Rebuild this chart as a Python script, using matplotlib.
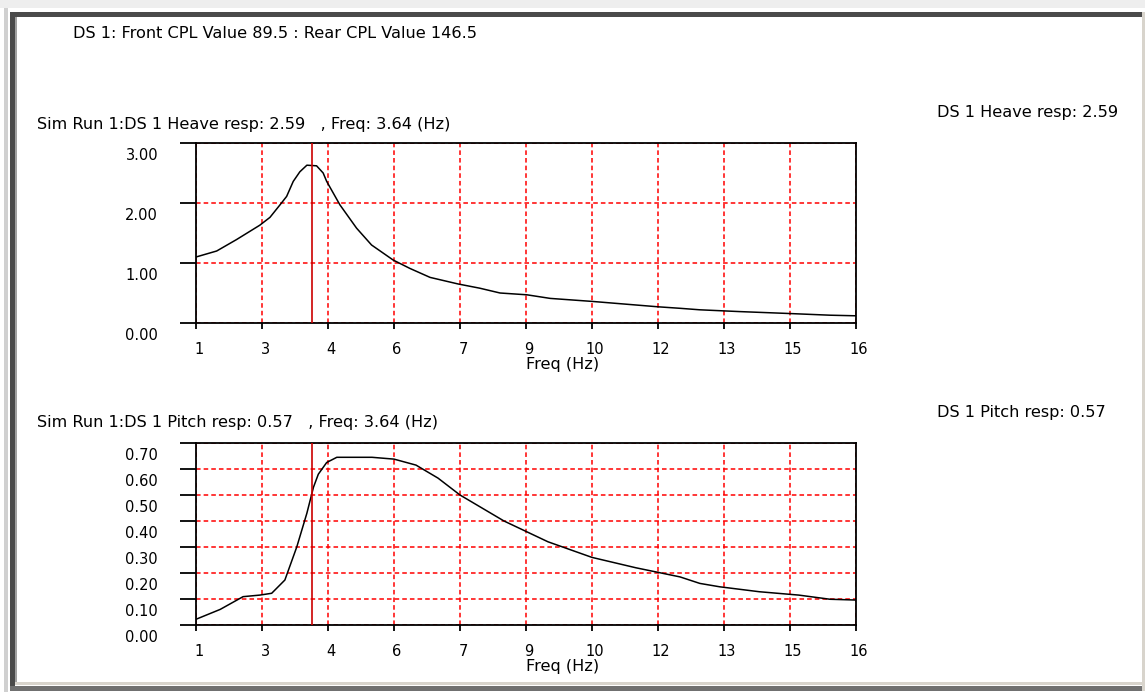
import numpy as np
import matplotlib
matplotlib.use("Agg")
import matplotlib.pyplot as plt
from matplotlib.patches import Rectangle
from matplotlib.transforms import ScaledTranslation

# ---------------- data ----------------
heave_freq = [1.0, 1.47, 1.92, 2.45, 2.68, 2.91, 3.06, 3.21, 3.36, 3.52, 3.74, 3.89,
              3.97, 4.27, 4.65, 4.99, 5.48, 5.86, 6.32, 6.96, 7.45, 7.91, 8.52, 9.05,
              10.0, 11.0, 11.5, 12.0, 12.45, 13.36, 14.42, 15.41, 16.0]
heave_resp = [1.10, 1.20, 1.39, 1.63, 1.76, 1.97, 2.11, 2.36, 2.52, 2.63, 2.62, 2.50,
              2.36, 1.97, 1.58, 1.30, 1.05, 0.91, 0.76, 0.65, 0.58, 0.50, 0.47, 0.41,
              0.36, 0.30, 0.27, 0.245, 0.22, 0.19, 0.16, 0.13, 0.12]

pitch_freq = [1.0, 1.55, 2.07, 2.45, 2.72, 3.02, 3.29, 3.52, 3.67, 3.78, 3.97, 4.2,
              5.0, 5.5, 6.0, 6.5, 7.0, 7.5, 8.0, 8.5, 9.0, 10.0, 11.0, 12.0, 12.45,
              12.9, 13.8, 14.7, 15.41, 16.0]
pitch_resp = [0.022, 0.06, 0.109, 0.115, 0.122, 0.173, 0.30, 0.43, 0.53, 0.58, 0.625, 0.645,
              0.645, 0.638, 0.615, 0.565, 0.50, 0.45, 0.40, 0.36, 0.32, 0.26, 0.22, 0.185, 0.16,
              0.147, 0.128, 0.115, 0.099, 0.096]

marker_freq = 3.64
x_ticks = list(np.linspace(1, 16, 11))
x_tick_labels = ['1', '3', '4', '6', '7', '9', '10', '12', '13', '15', '16']
heave_yticks = [0, 1, 2, 3]
heave_ylabels = ['0.00', '1.00', '2.00', '3.00']
pitch_yticks = [0, 0.1, 0.2, 0.3, 0.4, 0.5, 0.6, 0.7]
pitch_ylabels = ['0.00', '0.10', '0.20', '0.30', '0.40', '0.50', '0.60', '0.70']

title_main = "DS 1: Front CPL Value 89.5 : Rear CPL Value 146.5"
heave_title = "Sim Run 1:DS 1 Heave resp: 2.59   , Freq: 3.64 (Hz)"
heave_right = "DS 1 Heave resp: 2.59"
pitch_title = "Sim Run 1:DS 1 Pitch resp: 0.57   , Freq: 3.64 (Hz)"
pitch_right = "DS 1 Pitch resp: 0.57"

# ---------------- figure ----------------
plt.rcParams['font.family'] = ['DejaVu Sans']
FS = 10.5
FS_T = 11.6
W, H = 1145, 693
fig = plt.figure(figsize=(W / 100, H / 100), dpi=100)
fig.patch.set_facecolor('white')


def px_rect(x0, y0, x1, y1, color):
    fig.add_artist(Rectangle((x0, H - y1), x1 - x0, y1 - y0, transform=None,
                             facecolor=color, edgecolor='none', zorder=-5))


# window border
px_rect(0, 0, W, 8, '#eeeeee')
px_rect(4, 8, 8, 692, '#d0d0d0')
px_rect(10, 12, 15, 690, '#4a4a4a')
px_rect(10, 12, 1144, 17, '#4a4a4a')
px_rect(15, 17, 17, 683, '#a0a0a0')
px_rect(15, 682, 1144, 685, '#d8d4cc')
px_rect(10, 686, 1144, 691, '#707070')
px_rect(1142, 12, 1145, 691, '#d8d4cc')


def fx(p):
    return p / W


def fy(p):
    return 1 - p / H


def make_axes(top, bottom, freq, resp, yticks, ylabels, ymax):
    ax = fig.add_axes([fx(196), fy(bottom), fx(856) - fx(196), (bottom - top) / H])
    ax.plot(freq, resp, color='black', lw=1.1, zorder=3)
    ax.axvline(marker_freq, color='#cc0000', lw=1.2, zorder=4)
    ax.set_xlim(1, 16)
    ax.set_ylim(0, ymax)
    ax.set_xticks(x_ticks)
    ax.set_xticklabels(x_tick_labels, fontsize=FS)
    ax.set_yticks(yticks)
    ax.set_yticklabels(ylabels, fontsize=FS)
    ax.grid(True, color='#ff0000', lw=1.1, linestyle=(0, (3, 2)), zorder=1)
    ax.set_axisbelow(True)
    for s in ax.spines.values():
        s.set_linewidth(1.3)
        s.set_color('black')
    ax.tick_params(axis='y', direction='out', length=11.5, width=1.3, pad=15.8)
    ax.tick_params(axis='x', direction='out', length=4.3, width=1.3, pad=9.5)
    off_y = ScaledTranslation(0, -11 / 100, fig.dpi_scale_trans)
    for lbl in ax.get_yticklabels():
        lbl.set_transform(lbl.get_transform() + off_y)
    off_x = ScaledTranslation(3 / 100, 0, fig.dpi_scale_trans)
    for lbl in ax.get_xticklabels():
        lbl.set_transform(lbl.get_transform() + off_x)
    ax.set_xlabel('Freq (Hz)', fontsize=FS_T)
    h = bottom - top
    ax.xaxis.set_label_coords(0.556, -41 / h)
    ax.xaxis.label.set_va('center')
    return ax


ax1 = make_axes(143, 323, heave_freq, heave_resp, heave_yticks, heave_ylabels, 3.0)
ax2 = make_axes(443, 625, pitch_freq, pitch_resp, pitch_yticks, pitch_ylabels, 0.7)

fig.text(fx(73), fy(33), title_main, fontsize=FS_T, ha='left', va='center')
fig.text(fx(37), fy(124), heave_title, fontsize=FS_T, ha='left', va='center')
fig.text(fx(937), fy(112), heave_right, fontsize=FS_T, ha='left', va='center')
fig.text(fx(37), fy(423), pitch_title, fontsize=FS_T, ha='left', va='center')
fig.text(fx(937), fy(413), pitch_right, fontsize=FS_T, ha='left', va='center')

fig.savefig('out.png', dpi=100)
